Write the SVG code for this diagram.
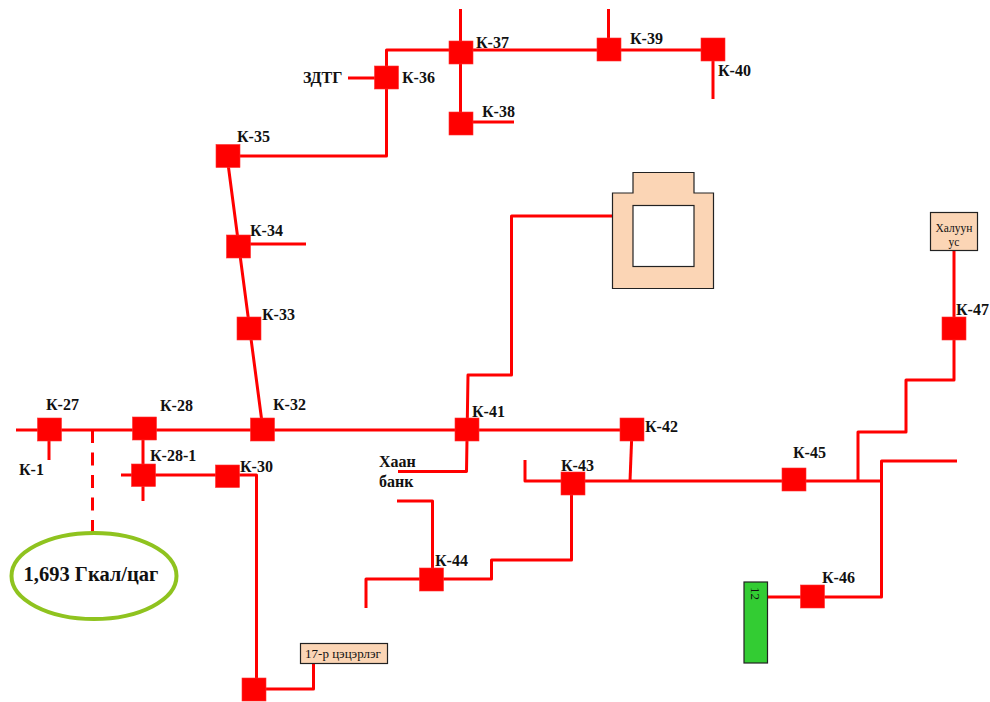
<svg xmlns="http://www.w3.org/2000/svg" width="990" height="702" viewBox="0 0 990 702">
<style>
.l{fill:none;stroke:#ff0000;stroke-width:3;stroke-linejoin:round}
.k{fill:#ff0000;stroke:#ff3030;stroke-width:.6}
text{font-family:"Liberation Serif",serif;fill:#111}
.t{font-size:16px;font-weight:bold}
.s{fill:#fbd5b5;stroke:#222;stroke-width:1.2}
.n{font-size:11.5px;text-anchor:middle}
</style>
<rect width="990" height="702" fill="#fff"/>
<g id="connectors">
<path class="l" d="M16 430H632"/>
<path class="l" d="M49 430V460"/>
<path class="l" d="M92.500 430V532" stroke-dasharray="13 9.500"/>
<path class="l" d="M143 430V501"/>
<path class="l" d="M121 475H256.500V689H313.500V664"/>
<path class="l" d="M263 430L227 156H386.500V78M348 78H386.500M386.500 78V50H713"/>
<path class="l" d="M238 244H306"/>
<path class="l" d="M460.500 9V122H514"/>
<path class="l" d="M608.500 9V50"/>
<path class="l" d="M713 50V99"/>
<path class="l" d="M398 471.500H466.500L468 375H511.500V216H613"/>
<path class="l" d="M632 430L630 481"/>
<path class="l" d="M525 460V481H881"/>
<path class="l" d="M397 501H432.500V579"/>
<path class="l" d="M366 608V579H491.500V560H571.500V481"/>
<path class="l" d="M858 481V432H906V380H954V251"/>
<path class="l" d="M957 461H881.500V597H768"/>
</g>
<g id="k27"><rect class="k" x="37.500" y="418" width="24" height="23"/><text class="t" x="46" y="410">К-27</text></g>
<g id="k1"><text class="t" x="19" y="475">К-1</text></g>
<g id="k28"><rect class="k" x="132.500" y="417" width="24" height="23"/><text class="t" x="160" y="411">К-28</text></g>
<g id="k32"><rect class="k" x="250.500" y="418" width="24" height="23"/><text class="t" x="273" y="410">К-32</text></g>
<g id="k28-1"><rect class="k" x="131.500" y="464" width="24" height="22.500"/><text class="t" x="150" y="461">К-28-1</text></g>
<g id="k30"><rect class="k" x="215.500" y="465" width="24" height="22.500"/><text class="t" x="240" y="472">К-30</text></g>
<g id="k33"><rect class="k" x="237" y="317" width="24" height="23"/><text class="t" x="262" y="320">К-33</text></g>
<g id="k34"><rect class="k" x="226.500" y="235" width="24" height="23"/><text class="t" x="250" y="236">К-34</text></g>
<g id="k35"><rect class="k" x="216" y="144.500" width="24" height="23"/><text class="t" x="237" y="142">К-35</text></g>
<g id="k36"><rect class="k" x="374.500" y="66" width="24" height="23"/><text class="t" x="402" y="83">К-36</text></g>
<g id="zdtg"><text class="t" x="303" y="83">ЗДТГ</text></g>
<g id="k37"><rect class="k" x="449" y="41" width="24" height="23"/><text class="t" x="476" y="48">К-37</text></g>
<g id="k38"><rect class="k" x="449" y="112" width="24" height="23"/><text class="t" x="482" y="117">К-38</text></g>
<g id="k39"><rect class="k" x="597" y="38" width="24" height="23"/><text class="t" x="630" y="44">К-39</text></g>
<g id="k40"><rect class="k" x="701" y="38" width="24" height="23"/><text class="t" x="718" y="76">К-40</text></g>
<g id="k41"><rect class="k" x="455" y="418" width="24" height="23"/><text class="t" x="472" y="417">К-41</text></g>
<g id="k42"><rect class="k" x="620" y="418" width="24" height="23"/><text class="t" x="645" y="432">К-42</text></g>
<g id="k43"><rect class="k" x="561" y="472" width="24" height="23"/><text class="t" x="561" y="471">К-43</text></g>
<g id="k44"><rect class="k" x="419.500" y="568" width="24" height="23"/><text class="t" x="435" y="566">К-44</text></g>
<g id="k45"><rect class="k" x="782" y="468" width="24" height="23"/><text class="t" x="793" y="458">К-45</text></g>
<g id="k46"><rect class="k" x="800.500" y="585" width="24" height="23"/><text class="t" x="822" y="583">К-46</text></g>
<g id="k47"><rect class="k" x="942" y="317" width="24" height="23"/><text class="t" x="956" y="315">К-47</text></g>
<g id="k-end"><rect class="k" x="242" y="678" width="24" height="23"/></g>
<g id="bank"><text class="t" x="379" y="467">Хаан</text><text class="t" x="379" y="487">банк</text></g>
<g id="load"><ellipse cx="94" cy="576" rx="82.500" ry="43" fill="#fff" stroke="#8fc31f" stroke-width="4"/><text x="91" y="581" font-size="20.500" font-weight="bold" text-anchor="middle">1,693 Гкал/цаг</text></g>
<g id="plant"><path class="s" d="M612.500 193H633V172.500H694V193H713.500V288.500H612.500Z"/><rect x="633" y="205.500" width="61" height="61" fill="#fff" stroke="#222" stroke-width="1.200"/></g>
<g id="hot"><rect class="s" x="930.500" y="212.500" width="47" height="38"/><text class="n" x="954" y="232">Халуун</text><text class="n" x="954" y="246">ус</text></g>
<g id="kinder"><rect class="s" x="300.500" y="643.500" width="87" height="20"/><text x="343" y="658" font-size="13" text-anchor="middle">17-р цэцэрлэг</text></g>
<g id="green"><rect x="744" y="582" width="23.500" height="81" fill="#33cc33" stroke="#222" stroke-width="1.200"/><text x="0" y="0" font-size="13" transform="translate(751 587) rotate(90)">12</text></g>
</svg>
